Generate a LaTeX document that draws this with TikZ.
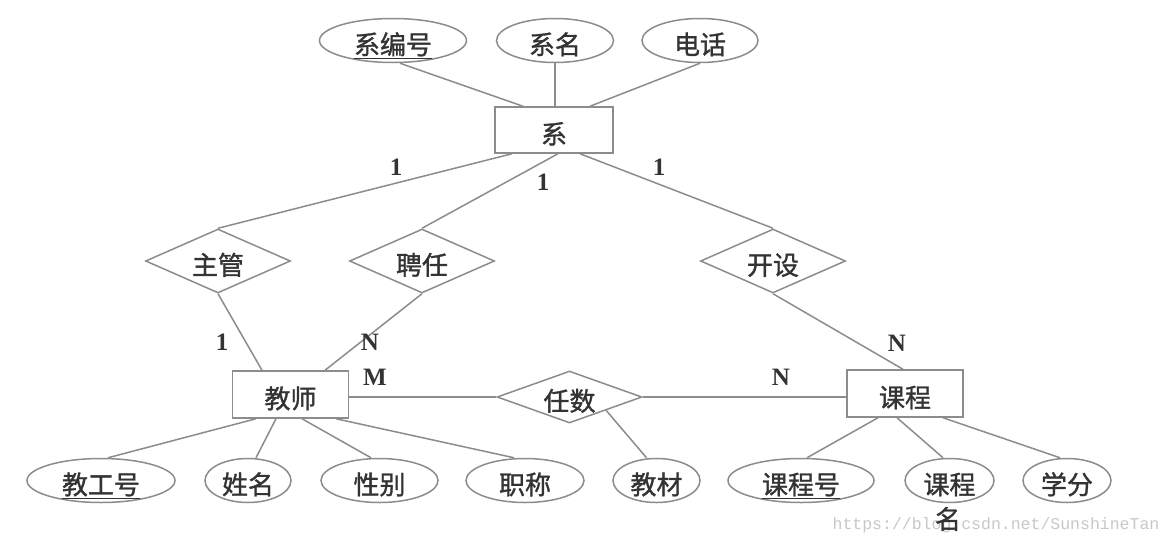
\documentclass[tikz,border=0pt]{standalone}
\usepackage{fontspec}
\setmainfont{Noto Sans CJK SC}[FakeBold=1.2]
\newfontfamily\labfont{Liberation Serif}
\newfontfamily\wmfont{Liberation Mono}
\usetikzlibrary{shapes.geometric}
\definecolor{linecol}{HTML}{8C8C8C}
\definecolor{textcol}{HTML}{333333}
\definecolor{wmcol}{HTML}{C8C8C8}
\tikzset{
  base/.style={draw=linecol, line width=1.5pt, text=textcol, inner sep=0pt,
    font=\fontsize{26}{30}\selectfont, text height=27.5pt, text depth=0pt},
  ent/.style={base, rectangle, minimum width=116pt, minimum height=47pt},
  attr/.style={base, ellipse, minimum height=44pt},
  rel/.style={base, diamond, minimum width=145pt, minimum height=64pt, aspect=2.27},
  conn/.style={draw=linecol, line width=1.5pt},
  card/.style={text=textcol, inner sep=0pt, font=\labfont\bfseries\fontsize{25}{28}\selectfont},
  plain/.style={text=textcol, inner sep=0pt, font=\fontsize{26}{30}\selectfont},
  wmark/.style={text=wmcol, inner sep=0pt, font=\wmfont\fontsize{16.5}{18}\selectfont}
}
\begin{document}
\begin{tikzpicture}[x=1pt, y=-1pt]
\useasboundingbox[fill=white] (0,0) rectangle (1172,546);

% entities
\node[ent, minimum width=118pt, minimum height=46pt] (xi) at (554,130) {系};
\node[ent] (js) at (290.5,394.5) {教师};
\node[ent] (kc) at (905,393.5) {课程};

% attributes of 系
\node[attr, minimum width=147pt] (xbh) at (393,40.5) {\underline{系编号}};
\node[attr, minimum width=117pt] (xmc) at (555,40.5) {系名};
\node[attr, minimum width=116pt] (dh) at (700,40.5) {电话};

% relationships
\node[rel] (zg) at (218,261) {主管};
\node[rel] (pr) at (422,261) {聘任};
\node[rel] (ks) at (773,261) {开设};
\node[rel, minimum height=52pt, aspect=2.8] (rs) at (569.5,397) {任数};

% attributes bottom
\node[attr, minimum width=148pt] (jgh) at (101,480.5) {\underline{教工号}};
\node[attr, minimum width=86pt] (xm) at (248,480.5) {姓名};
\node[attr, minimum width=117pt] (xb) at (379.5,480.5) {性别};
\node[attr, minimum width=118pt] (zc) at (525,480.5) {职称};
\node[attr, minimum width=87pt] (jc) at (656.5,480.5) {教材};
\node[attr, minimum width=146pt] (kch) at (801,480.5) {\underline{课程号}};
\node[attr, minimum width=89pt] (kcm) at (949.5,480.5) {课程};
\node[attr, minimum width=88pt] (xf) at (1067,480.5) {学分};

% connectors: 系 attributes
\draw[conn] ([xshift=7pt]xbh.south) -- ([xshift=-31pt]xi.north);
\draw[conn] (xmc.south) -- (xmc.south |- xi.north);
\draw[conn] (dh.south) -- ([xshift=36pt]xi.north);

% relationships
\draw[conn] ([xshift=-42pt]xi.south) -- (zg.north);
\draw[conn] ([xshift=4pt]xi.south) -- (pr.north);
\draw[conn] ([xshift=26pt]xi.south) -- (ks.north);
\draw[conn] (zg.south) -- ([xshift=-28.5pt]js.north);
\draw[conn] (pr.south) -- ([xshift=34.5pt]js.north);
\draw[conn] (ks.south) -- ([xshift=-2pt]kc.north);
\draw[conn] (js.east |- rs.west) -- (rs.west);
\draw[conn] (rs.east) -- (rs.east -| kc.west);
\draw[conn] (rs.south east) -- ([xshift=-10pt]jc.north);

% 教师 attributes
\draw[conn] ([xshift=-34.5pt]js.south) -- ([xshift=7pt]jgh.north);
\draw[conn] ([xshift=-14.5pt]js.south) -- ([xshift=8pt]xm.north);
\draw[conn] ([xshift=11.5pt]js.south) -- ([xshift=-8.5pt]xb.north);
\draw[conn] ([xshift=45.5pt]js.south) -- ([xshift=-11pt]zc.north);

% 课程 attributes
\draw[conn] ([xshift=-27pt]kc.south) -- ([xshift=6pt]kch.north);
\draw[conn] ([xshift=-8pt]kc.south) -- ([xshift=-6.5pt]kcm.north);
\draw[conn] ([xshift=38pt]kc.south) -- ([xshift=-7pt]xf.north);

% cardinalities
\node[card] (c1) at (396,167) {1};
\node[card] (c2) at (543,182) {1};
\node[card] (c3) at (659,167) {1};
\node[card] (c4) at (222,342) {1};
\node[card] (c5) at (370,342) {N};
\node[card] (c6) at (375,377) {M};
\node[card] (c7) at (781,377) {N};
\node[card] (c8) at (897,343) {N};

% watermark and overflow text
\node[wmark] (wm) at (996,525) {https://blog.csdn.net/SunshineTan};
\node[plain] (kcm2) at (948,519) {名};
\end{tikzpicture}
\end{document}
